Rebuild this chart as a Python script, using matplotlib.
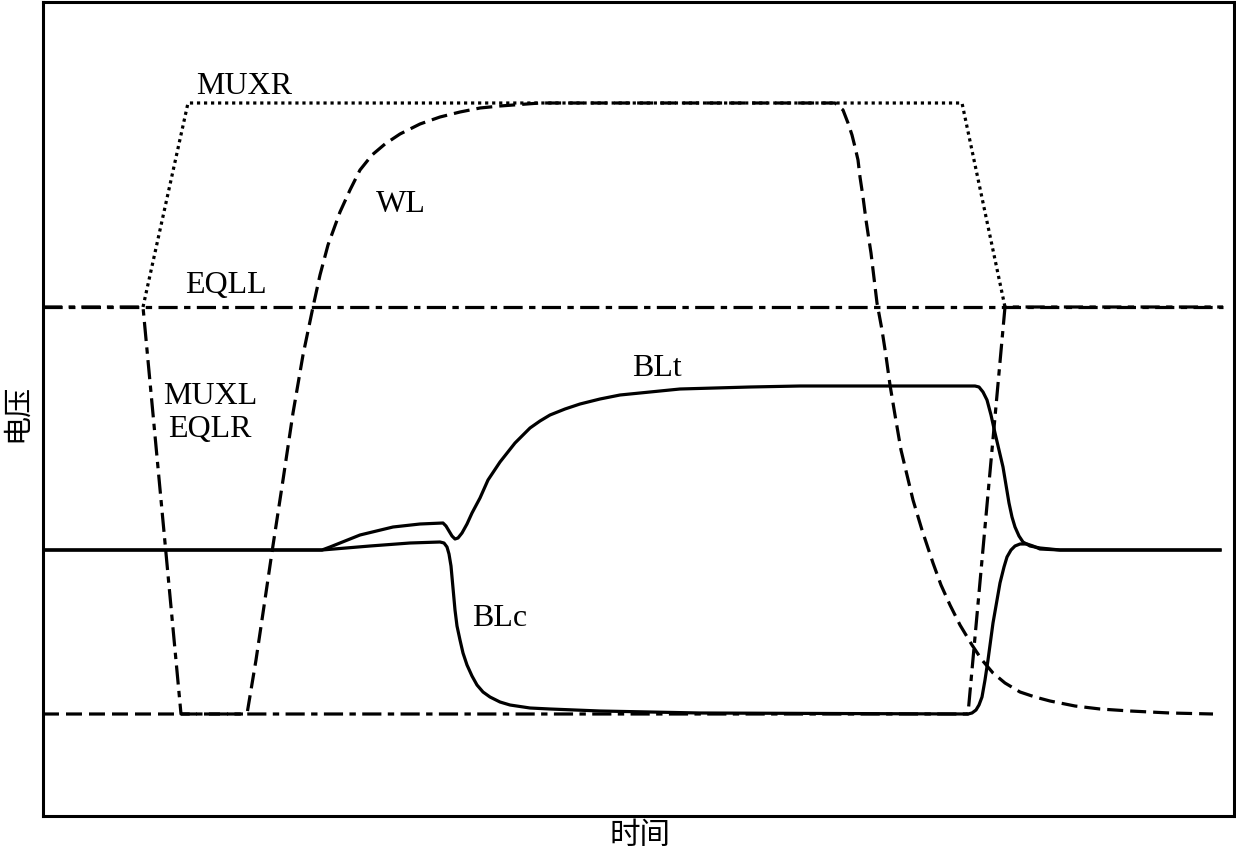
import matplotlib
matplotlib.use('Agg')
import matplotlib.pyplot as plt

plt.rcParams['font.family'] = ['Liberation Serif', 'Noto Sans CJK SC', 'DejaVu Sans']

# signal traces (time, voltage) in arbitrary units
wl_t = [0, 204, 213, 220, 229, 240, 250, 260, 270, 277, 285, 297, 307, 317, 329, 342, 357, 377,
        397, 417, 437, 457, 497,
        792, 800, 805, 809, 812, 815, 817, 820, 823, 826, 828, 831, 834, 839, 843, 847, 852, 858,
        864, 870, 879, 890, 898, 907, 917, 929, 939, 950, 962, 977, 992, 1007, 1032, 1057, 1087,
        1127, 1170]
wl_v = [102, 102, 156, 203, 264, 336, 403, 461, 509, 541, 571, 604, 626, 646, 661, 672, 682, 692,
        699, 704, 708, 710, 713,
        713, 706, 693, 681, 669, 656, 639, 619, 596, 576, 563, 538, 513, 486, 460, 431, 401, 366,
        341, 316, 286, 253, 231, 211, 191, 171, 156, 143, 133, 124, 119, 115, 110, 107, 105,
        103, 102]

blt_t = [0, 279, 287, 297, 317, 350, 377, 400, 403, 406, 409, 412, 415, 419, 424, 429, 437, 445,
         457, 472, 487, 497, 507, 522, 537, 557, 577, 637, 707, 757,
         932, 936, 940, 944, 948, 952, 956, 960, 963, 966, 969, 972, 976, 980, 987, 997, 1017, 1177]
blt_v = [266, 266, 269, 273, 281, 289, 292, 293, 290, 285, 280, 277, 278, 283, 292, 303, 318, 336,
         354, 373, 388, 395, 401, 407, 412, 417, 421, 427, 429, 430,
         430, 429, 424, 416, 401, 383, 366, 349, 331, 313, 299, 289, 280, 274, 270, 268, 266, 266]

blc_t = [0, 279, 327, 367, 397, 401, 404, 406, 408, 410, 412, 414, 417, 420, 424, 429, 434, 440,
         447, 457, 467, 487, 507, 557, 657,
         925, 929, 933, 936, 939, 942, 945, 950, 957, 961, 964, 968, 972, 977, 984, 990, 997, 1017,
         1177]
blc_v = [266, 266, 270, 273, 274, 273, 269, 262, 250, 228, 206, 190, 176, 163, 151, 140, 131, 124,
         119, 114, 111, 108, 107, 105, 103,
         102, 103, 106, 111, 119, 136, 156, 193, 233, 249, 259, 266, 270, 272, 272, 270, 267, 266,
         266]

muxr_t = [100, 145, 919, 962]
muxr_v = [509, 713, 713, 509]

eqll_t = [0, 1180]
eqll_v = [509, 509]

muxl_t = [0, 100, 138, 925, 962, 1180]
muxl_v = [509, 509, 102, 102, 509, 509]

fig = plt.figure(figsize=(12.36, 8.51), dpi=100)
ax = fig.add_axes([43/1236, 35/851, 1191/1236, 814/851])

lw = 2.3
ax.plot(eqll_t, eqll_v, color='black', lw=lw, dashes=(6, 2, 2, 2))
ax.plot(muxl_t, muxl_v, color='black', lw=lw, dashes=(6, 2, 2, 2))
ax.plot(muxr_t, muxr_v, color='black', lw=lw, dashes=(1, 1.2))
ax.plot(wl_t, wl_v, color='black', lw=lw, dashes=(5, 2.2))
ax.plot(blt_t, blt_v, color='black', lw=lw)
ax.plot(blc_t, blc_v, color='black', lw=lw)

fs = 23
ax.text(153, 729, 'MUXR', fontsize=fs, va='center', ha='left')
ax.text(333, 611, 'WL', fontsize=fs, va='center', ha='left')
ax.text(142, 530, 'EQLL', fontsize=fs, va='center', ha='left')
ax.text(589, 448, 'BLt', fontsize=fs, va='center', ha='left')
ax.text(167, 419, 'MUXL', fontsize=fs, va='center', ha='center')
ax.text(167, 386, 'EQLR', fontsize=fs, va='center', ha='center')
ax.text(429, 198, 'BLc', fontsize=fs, va='center', ha='left')

ax.set_xlim(0, 1191)
ax.set_ylim(0, 814)
ax.set_xticks([])
ax.set_yticks([])
for s in ax.spines.values():
    s.set_linewidth(2.2)

fig.text(640/1236, 1 - 836/851, '时间', fontsize=22, ha='center', va='center')
fig.text(18/1236, 1 - 413/851, '电压', fontsize=21, ha='center', va='center', rotation=90)

fig.savefig('out.png', dpi=100)
plt.close(fig)
